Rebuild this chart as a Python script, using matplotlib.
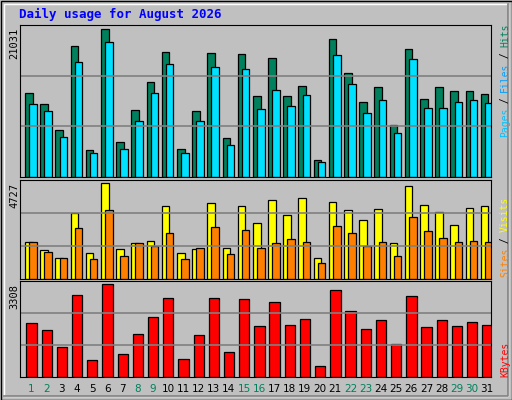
import matplotlib.pyplot as plt
from matplotlib.patches import Rectangle
import numpy as np

# ── data ──────────────────────────────────────────────────
days = list(range(1, 32))
weekend = [1, 2, 8, 9, 15, 16, 22, 23, 29, 30]
hits = [253, 220, 142, 391, 82, 442, 106, 202, 286, 373, 85, 199, 370, 118, 367, 244,
        355, 244, 274, 52, 412, 310, 226, 271, 157, 382, 235, 271, 259, 259, 250]
files = [220, 199, 121, 343, 73, 403, 85, 169, 253, 337, 73, 169, 328, 97, 322, 205,
         262, 214, 247, 46, 364, 280, 193, 232, 133, 352, 208, 208, 226, 232, 223]
visits = [105, 84, 60, 189, 75, 276, 87, 102, 108, 210, 75, 87, 219, 90, 210, 162,
          228, 183, 234, 60, 222, 198, 168, 201, 102, 267, 213, 192, 156, 204, 210]
sites = [105, 78, 60, 147, 57, 198, 66, 102, 96, 132, 57, 90, 150, 72, 141, 90,
         102, 114, 105, 45, 153, 132, 96, 105, 66, 177, 138, 117, 105, 108, 105]
kbytes = [159, 138, 87, 240, 51, 273, 66, 126, 177, 231, 54, 123, 231, 72, 228, 150,
          219, 153, 171, 33, 255, 192, 141, 168, 96, 237, 147, 168, 150, 162, 153]
hits = np.array(hits) * 21031 / 442
files = np.array(files) * 21031 / 442
visits = np.array(visits) * 4727 / 276
sites = np.array(sites) * 4727 / 276
kbytes = np.array(kbytes) * 3308 / 273

W, H = 512, 400
BG = '#C0C0C0'
MONO = 'DejaVu Sans Mono'

fig = plt.figure(figsize=(W / 100, H / 100), dpi=100)
fig.patch.set_facecolor(BG)

# outer frame
fa = fig.add_axes([0, 0, 1, 1])
fa.set_xlim(0, W); fa.set_ylim(H, 0); fa.axis('off')
fa.add_patch(Rectangle((0.5, 0.5), W - 1, H - 1, fill=False, ec='black', lw=1))
fa.add_patch(Rectangle((4, 4), W - 8, H - 8, fill=False, ec='white', lw=1))
fa.plot([4, W - 4, W - 4], [H - 4, H - 4, 4], color='#808080', lw=1.2)
fa.text(19, 14, 'Daily usage for August 2026', color='#0000FF', fontsize=9,
        fontweight='bold', family=MONO, va='center')


def panel(top, bottom, vmax, label):
    ax = fig.add_axes([20 / W, 1 - bottom / H, 471 / W, (bottom - top) / H])
    ax.set_facecolor(BG)
    ax.set_xlim(0, 31)
    ax.set_ylim(0, vmax * 1.03)
    ax.set_xticks([]); ax.set_yticks([])
    for s in ax.spines.values():
        s.set_color('black')
    for f in (1 / 3, 2 / 3):
        ax.axhline(vmax * 1.03 * f, color='#808080', lw=1.2)
    fa.text(14, top + 3, label, rotation=90, ha='center', va='top', fontsize=7.5,
            family=MONO)
    return ax


x0 = np.arange(31)

ax1 = panel(25, 177, 21031, '21031')
ax1.bar(x0 + 0.33, hits, width=0.5, align='edge', color='#00805C', ec='black', lw=0.9)
ax1.bar(x0 + 0.6, files, width=0.5, align='edge', color='#00E0FF', ec='black', lw=0.9)

ax2 = panel(180, 279, 4727, '4727')
ax2.bar(x0 + 0.33, visits, width=0.5, align='edge', color='#FFFF00', ec='black', lw=0.9)
ax2.bar(x0 + 0.6, sites, width=0.5, align='edge', color='#FF8000', ec='black', lw=0.9)

ax3 = panel(281, 377, 3308, '3308')
ax3.bar(x0 + 0.42, kbytes, width=0.68, align='edge', color='#FF0000', ec='black', lw=0.9)

# day labels
for d in days:
    xp = 20 + (d - 1 + 0.75) * 471 / 31
    fa.text(xp, 389, str(d), ha='center', va='center', fontsize=7.5,
            color='#00805C' if d in weekend else 'black')


# right side legends
def vlegend(parts, y_bottom):
    y = y_bottom
    for txt, col in parts:
        fa.text(505, y, txt, rotation=90, ha='center', va='bottom', fontsize=7,
                color=col, family=MONO)
        y -= len(txt) * 5.6


vlegend([('Pages', '#00C0FF'), (' / ', 'black'), ('Files', '#00A0FF'), (' / ', 'black'),
         ('Hits', '#00805C')], 137)
vlegend([('Sites', '#FF8000'), (' / ', 'black'), ('Visits', '#FFFF00')], 277)
vlegend([('KBytes', '#FF0000')], 377)

fig.savefig('out.png', dpi=100, facecolor=BG)
